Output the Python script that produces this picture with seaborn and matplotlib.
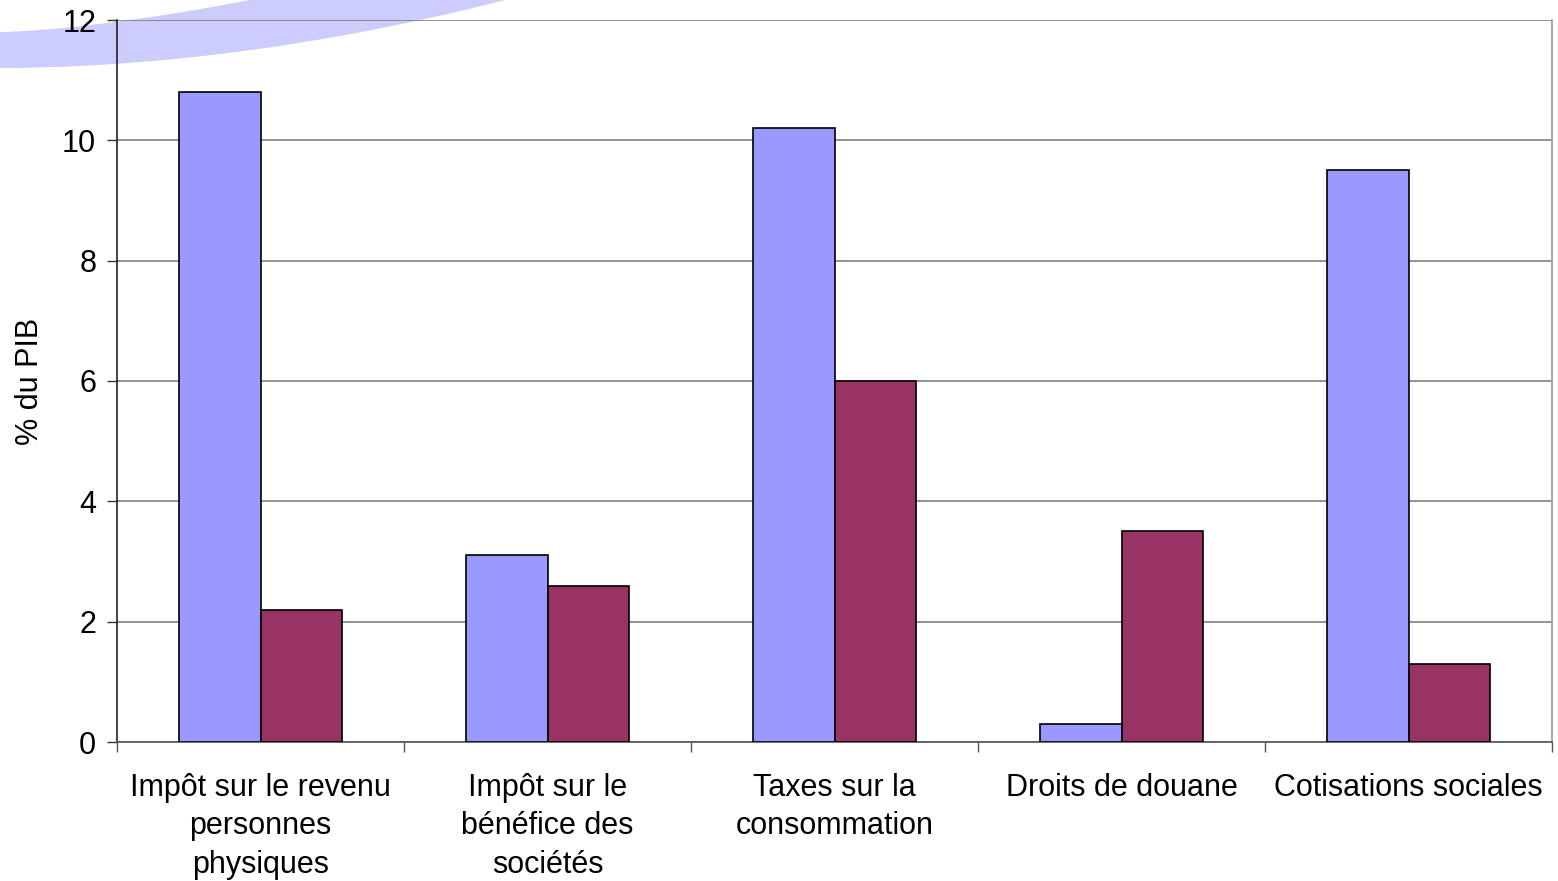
import numpy as np
import pandas as pd
import matplotlib
matplotlib.use("Agg")
import matplotlib.pyplot as plt
import seaborn as sns
from matplotlib.patches import Polygon

# Datos
categorias = [
    "Impôt sur le revenu\npersonnes\nphysiques",
    "Impôt sur le\nbénéfice des\nsociétés",
    "Taxes sur la\nconsommation",
    "Droits de douane",
    "Cotisations sociales",
]
serie_1 = [10.8, 3.1, 10.2, 0.3, 9.5]
serie_2 = [2.2, 2.6, 6.0, 3.5, 1.3]
nombres_series = ["Série 1", "Série 2"]
colores = ["#9999FF", "#993366"]
y_ticks = [0, 2, 4, 6, 8, 10, 12]

# tabla larga para seaborn
df = pd.DataFrame({
    "categoria": categorias * 2,
    "valor": serie_1 + serie_2,
    "serie": [nombres_series[0]] * len(categorias) + [nombres_series[1]] * len(categorias),
})

sns.set_style("white")
plt.rcParams["font.family"] = ["Liberation Sans", "DejaVu Sans"]
plt.rcParams["text.color"] = "black"
plt.rcParams["xtick.color"] = "black"
plt.rcParams["ytick.color"] = "black"
plt.rcParams["axes.labelcolor"] = "black"

fig = plt.figure(figsize=(15.58, 8.81), dpi=100)

# decoración: arco lavanda arriba a la izquierda
t = np.linspace(0, 1, 60)
x_inf = t * 505
y_inf = 68 - 68 * (x_inf / 505) ** 1.9
x_sup = t * 250
y_sup = 32 - 32 * (x_sup / 250) ** 1.5
pts = list(zip(x_inf, y_inf)) + [(520, -5), (260, -5)] + list(zip(x_sup[::-1], y_sup[::-1]))
pts = [(x / 1558, 1 - y / 881) for x, y in pts]
fig.patches.append(Polygon(pts, closed=True, transform=fig.transFigure,
                           facecolor="#CCCCFF", edgecolor="none", zorder=-5))

ax = fig.add_axes([117 / 1558, 1 - 742 / 881, 1435 / 1558, 722 / 881])
ax.set_zorder(2)
ax.patch.set_alpha(0)

sns.barplot(data=df, x="categoria", y="valor", hue="serie", palette=colores,
            width=0.57, edgecolor="black", linewidth=1.2, saturation=1,
            ax=ax, zorder=3)
if ax.get_legend() is not None:
    ax.get_legend().remove()

ax.set_ylim(0, 12)
ax.set_xlim(-0.5, len(categorias) - 0.5)
ax.set_yticks(y_ticks)
ax.set_yticklabels([str(v) for v in y_ticks], fontsize=22)
ax.yaxis.grid(True, color="#808080", linewidth=1.2, zorder=0)
ax.set_axisbelow(True)

# etiquetas de categoría centradas, ticks entre categorías
ax.set_xticks(range(len(categorias)))
ax.set_xticklabels(categorias, fontsize=22, linespacing=1.38)
ax.tick_params(axis="x", which="major", bottom=True, length=0, pad=22)
ax.set_xticks(np.arange(-0.5, len(categorias), 1), minor=True)
ax.tick_params(axis="x", which="minor", bottom=True, length=7, width=1,
               color="#555555", direction="out")
ax.tick_params(axis="y", left=True, length=7, width=1, color="#333333",
               direction="out", pad=8)

ax.set_xlabel("")
ax.set_ylabel("% du PIB", fontsize=22, labelpad=12)

ax.spines["top"].set_visible(False)
ax.spines["left"].set_color("#222222")
ax.spines["bottom"].set_color("#555555")
ax.spines["right"].set_color("#999999")
for s in ax.spines.values():
    s.set_linewidth(1.2)

fig.savefig("out.png", dpi=100)
